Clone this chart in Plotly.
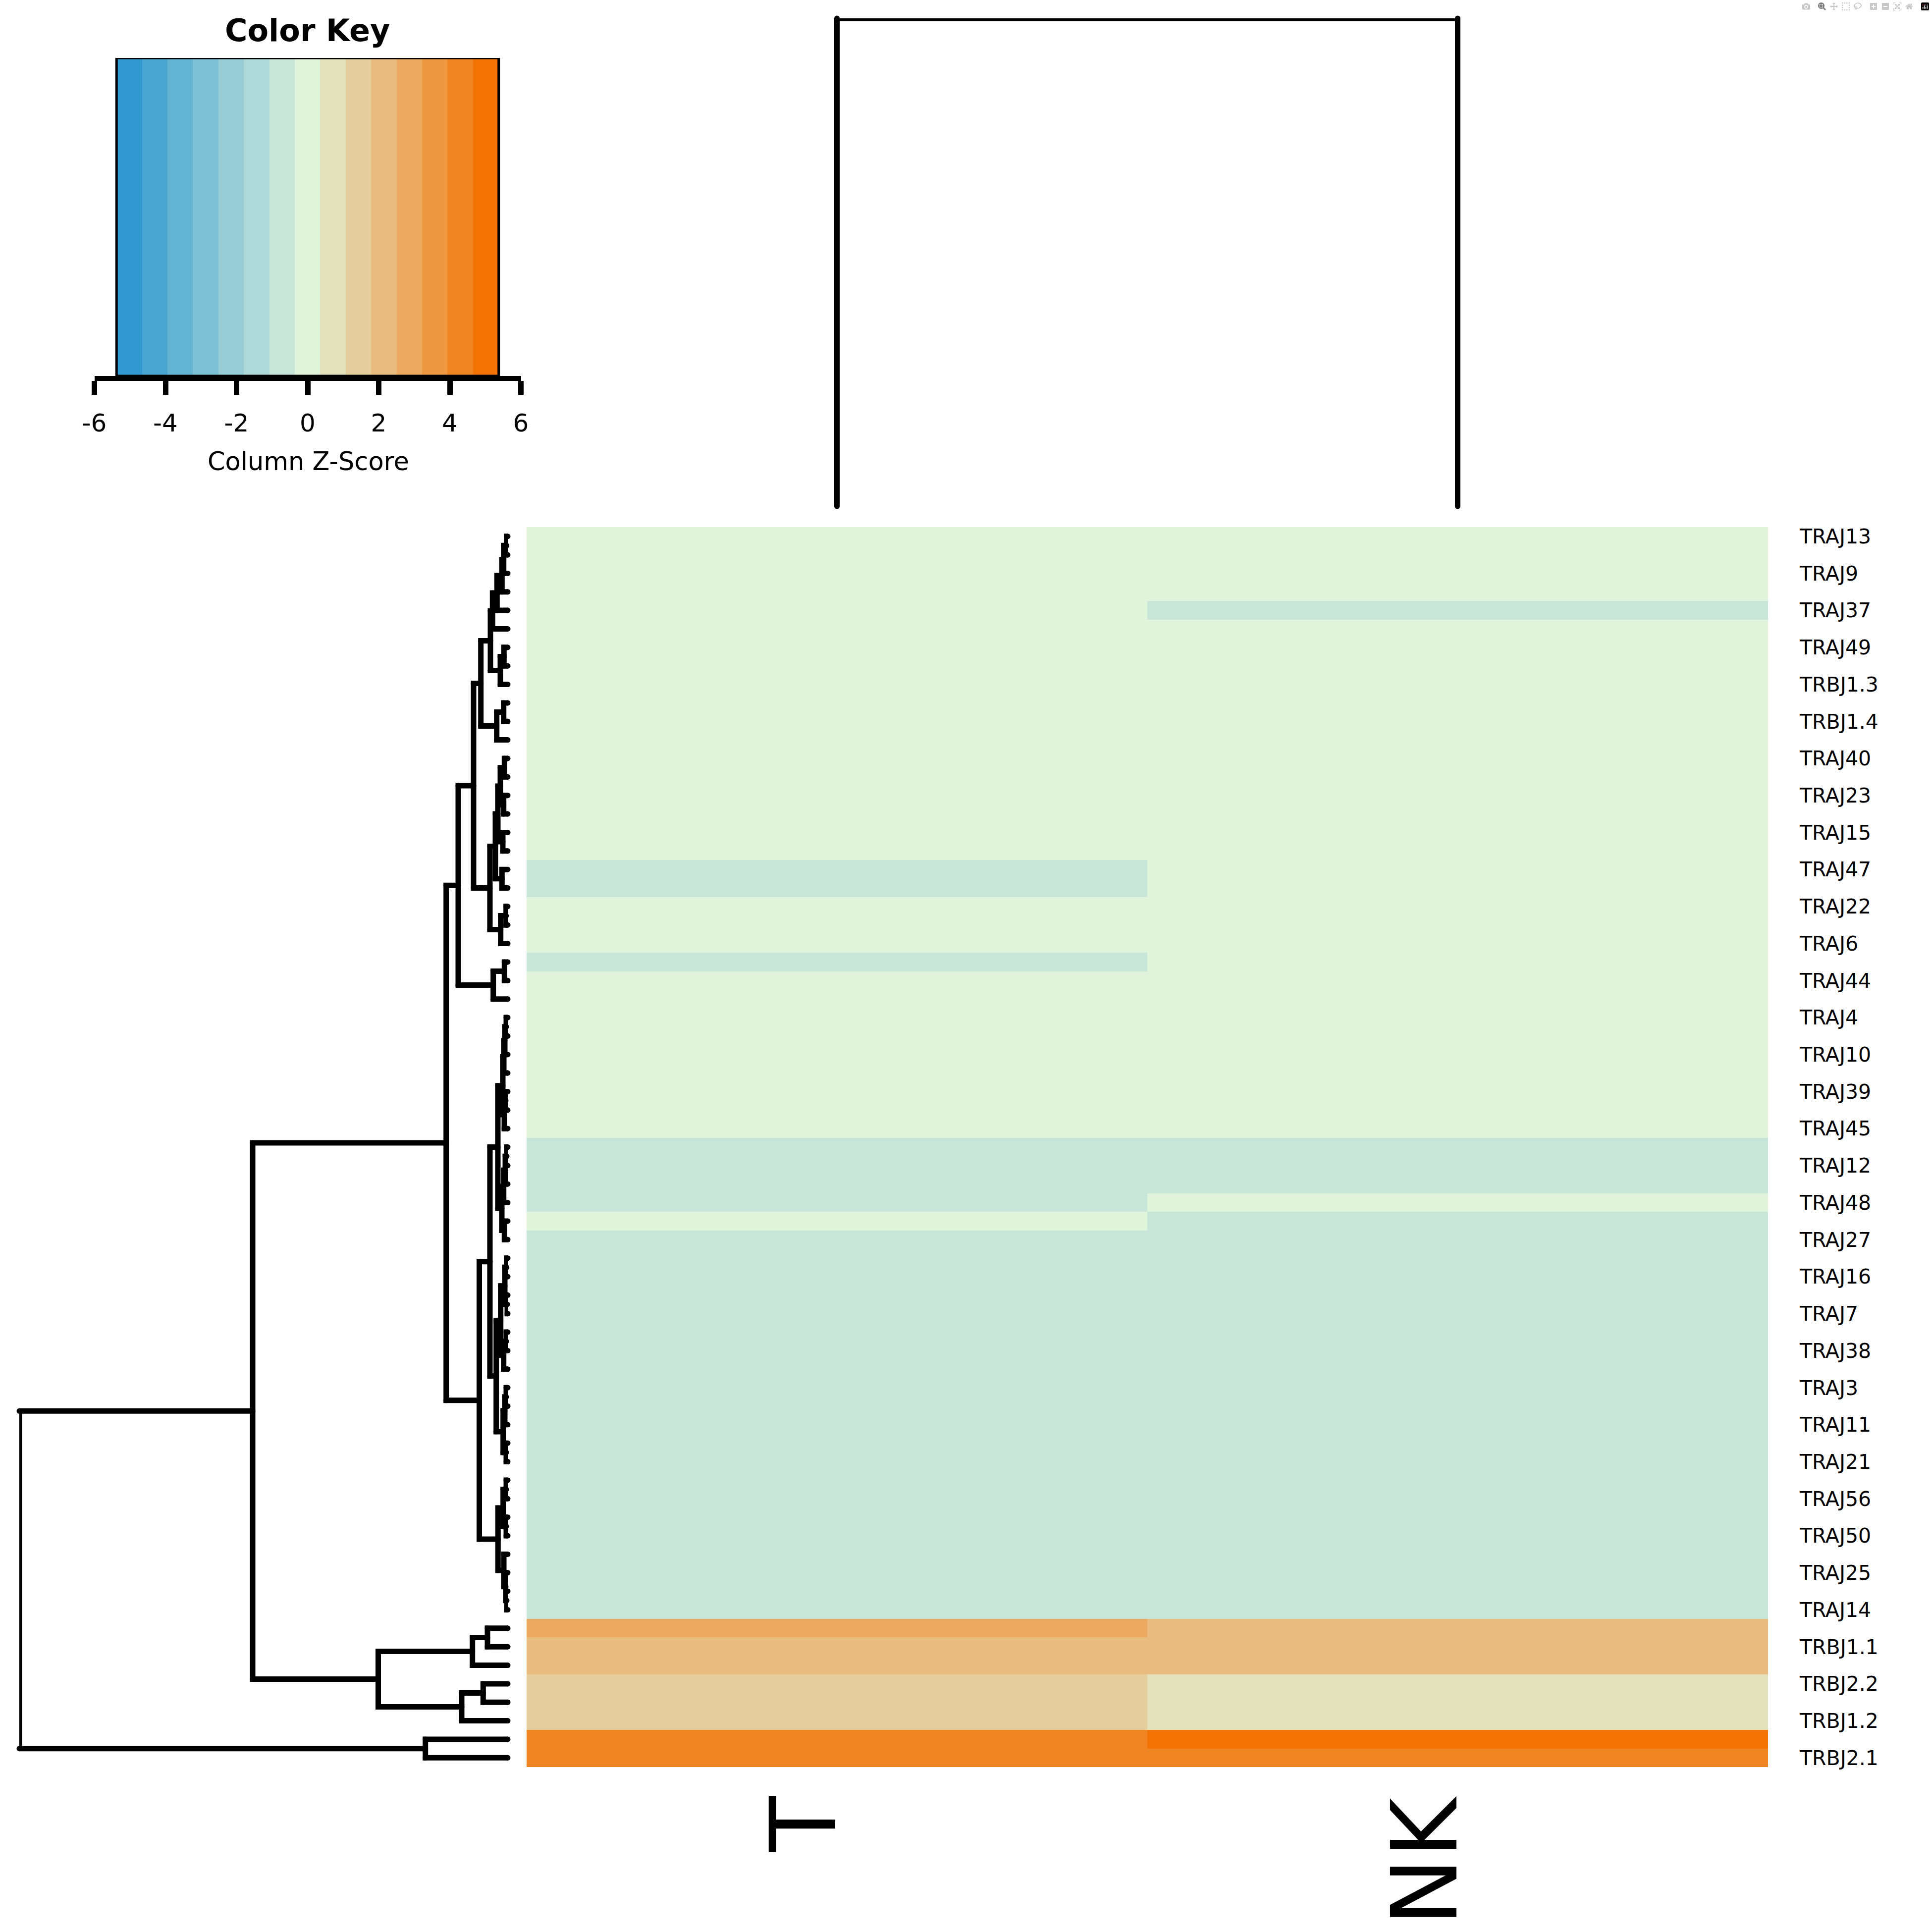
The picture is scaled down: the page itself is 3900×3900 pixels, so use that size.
import plotly.graph_objects as go

# ---------------- data ----------------
columns = ["T", "NK"]

# labels that are printed (every other row of the 67-row matrix, top to bottom)
row_labels_shown = ["TRAJ13", "TRAJ9", "TRAJ37", "TRAJ49", "TRBJ1.3", "TRBJ1.4", "TRAJ40",
                    "TRAJ23", "TRAJ15", "TRAJ47", "TRAJ22", "TRAJ6", "TRAJ44", "TRAJ4",
                    "TRAJ10", "TRAJ39", "TRAJ45", "TRAJ12", "TRAJ48", "TRAJ27", "TRAJ16",
                    "TRAJ7", "TRAJ38", "TRAJ3", "TRAJ11", "TRAJ21", "TRAJ56", "TRAJ50",
                    "TRAJ25", "TRAJ14", "TRBJ1.1", "TRBJ2.2", "TRBJ1.2", "TRBJ2.1"]
n_rows = 67

# column z-scores, rows top -> bottom
t_values = [-0.30, -0.30, -0.30, -0.30, -0.30, -0.30, -0.30, -0.30, -0.30, -0.30,
            -0.30, -0.30, -0.30, -0.30, -0.30, -0.30, -0.30, -0.30, -0.42, -0.42,
            -0.30, -0.30, -0.30, -0.42, -0.30, -0.30, -0.30, -0.30, -0.30, -0.30,
            -0.30, -0.30, -0.30, -0.42, -0.42, -0.42, -0.42, -0.30, -0.42, -0.42,
            -0.42, -0.42, -0.42, -0.42, -0.42, -0.42, -0.42, -0.42, -0.42, -0.42,
            -0.42, -0.42, -0.42, -0.42, -0.42, -0.42, -0.42, -0.42, -0.42, 2.90,
            2.15, 2.15, 1.45, 1.45, 1.45, 4.30, 4.30]
nk_values = [-0.30, -0.30, -0.30, -0.30, -0.40, -0.30, -0.30, -0.30, -0.30, -0.30,
             -0.30, -0.30, -0.30, -0.30, -0.30, -0.30, -0.30, -0.30, -0.30, -0.30,
             -0.30, -0.30, -0.30, -0.30, -0.30, -0.30, -0.30, -0.30, -0.30, -0.30,
             -0.30, -0.30, -0.30, -0.40, -0.40, -0.40, -0.30, -0.40, -0.40, -0.40,
             -0.40, -0.40, -0.40, -0.40, -0.40, -0.40, -0.40, -0.40, -0.40, -0.40,
             -0.40, -0.40, -0.40, -0.40, -0.40, -0.40, -0.40, -0.40, -0.40, 2.15,
             2.15, 2.15, 0.75, 0.75, 0.75, 5.376, 4.30]

# row dendrogram merges: (node, left child, right child, height); leaves are row indices
row_merges = [
    ("A", 0, 1, 2.3), ("B", "A", 2, 8.3), ("C", "B", 3, 11.7), ("D", "C", 4, 21.7),
    ("E", "D", 5, 30.7), ("G1", 6, 7, 7.7), ("G", "G1", 8, 15.0), ("F", "E", "G", 35.0),
    ("I1", 9, 10, 8.3), ("I", "I1", 11, 22.3), ("H", "F", "I", 54.3),
    ("S1", 12, 13, 6.7), ("S2", 14, 15, 8.3), ("S", "S1", "S2", 15.0),
    ("R1", 16, 17, 10.0), ("R", "S", "R1", 20.0), ("P1", 18, 19, 11.7), ("P", "R", "P1", 25.0),
    ("Q1", 20, 21, 3.3), ("Q", "Q1", 22, 14.3), ("K", "P", "Q", 36.0), ("J", "H", "K", 69.0),
    ("M1", 23, 24, 6.7), ("M", "M1", 25, 29.3), ("L", "J", "M", 100.0),
    ("X1a", 26, 27, 3.0), ("X1b", "X1a", 28, 6.0), ("X1", "X1b", 29, 8.0),
    ("X2a", 30, 31, 4.0), ("X2", "X2a", 32, 7.0), ("X", "X1", "X2", 10.0),
    ("Y1a", 33, 34, 2.0), ("Y1b", "Y1a", 35, 5.0), ("Y1", "Y1b", 36, 8.3),
    ("Y2", 37, 38, 6.7), ("Y", "Y1", "Y2", 12.0), ("V", "X", "Y", 20.0),
    ("W1a1", 39, 40, 2.3), ("W1a2", 41, 42, 1.0), ("W1a", "W1a1", "W1a2", 6.0),
    ("W1b1", 43, 44, 3.0), ("W1b", "W1b1", 45, 8.3), ("W1", "W1a", "W1b", 14.3),
    ("W2a", 46, 47, 3.0), ("W2b", "W2a", 48, 6.0), ("W2c", 49, 50, 3.0),
    ("W2", "W2b", "W2c", 9.3), ("Wn", "W1", "W2", 23.3), ("Tn", "V", "Wn", 36.0),
    ("U1a", 51, 52, 3.0), ("U1b", 53, 54, 3.0), ("U1", "U1a", "U1b", 9.3),
    ("U2a", 57, 58, 2.0), ("U2b", 56, "U2a", 4.0), ("U2", 55, "U2b", 8.0),
    ("U", "U1", "U2", 19.7), ("O", "Tn", "U", 57.5), ("N", "L", "O", 124.3),
    ("Z1a", 59, 60, 41.0), ("Z1", "Z1a", 61, 71.3), ("Z2a", 62, 63, 49.7),
    ("Z2", "Z2a", 64, 93.0), ("Z", "Z1", "Z2", 261.5), ("UP", "N", "Z", 515.0),
    ("BT", 65, 66, 166.3), ("ROOT", "UP", "BT", 986.0),
]
# column dendrogram: T and NK joined at one height
col_merges = [("root", 0, 1, 985.0)]

# ---------------- styling ----------------
FONT = "DejaVu Sans"
S = 3900.0
LW = 11
COL_FONT = 184

zmax = max(abs(v) for v in t_values + nk_values)
zmin = -zmax
n_bins = 15
c_low, c_mid, c_high = (49, 153, 207), (224, 243, 219), (243, 115, 4)


def ramp(k):
    # colorRampPalette(c(low, mid, high))(15)
    t = k / (n_bins - 1) * 2
    if t <= 1:
        a, b, f = c_low, c_mid, t
    else:
        a, b, f = c_mid, c_high, t - 1
    return "rgb(%d,%d,%d)" % tuple(round(a[i] + (b[i] - a[i]) * f) for i in range(3))


bin_colors = [ramp(k) for k in range(n_bins)]
colorscale = []
for k, c in enumerate(bin_colors):
    colorscale.append([k / n_bins, c])
    colorscale.append([(k + 1) / n_bins, c])

bin_w = (zmax - zmin) / n_bins
bin_centers = [zmin + bin_w * (k + 0.5) for k in range(n_bins)]


def px_x(p):
    return p / S


def px_y(p):
    return 1 - p / S


def dendro_paths(merges, n_leaves):
    pos = {i: float(i) for i in range(n_leaves)}
    hgt = {i: 0.0 for i in range(n_leaves)}
    hs, ps = [], []
    for name, a, b, h in merges:
        pos[name] = (pos[a] + pos[b]) / 2
        hgt[name] = h
        hs += [hgt[a], h, h, hgt[b], None]
        ps += [pos[a], pos[a], pos[b], pos[b], None]
    return hs, ps


fig = go.Figure()

# heatmap
z = [[t, n] for t, n in zip(t_values, nk_values)]
fig.add_trace(go.Heatmap(z=z, x=[0, 1], y=list(range(n_rows)), colorscale=colorscale,
                         zmin=zmin, zmax=zmax, showscale=False, xaxis="x", yaxis="y",
                         hoverinfo="skip"))

# row dendrogram
rh, rp = dendro_paths(row_merges, n_rows)
fig.add_trace(go.Scatter(x=rh, y=rp, mode="lines+markers", xaxis="x2", yaxis="y2",
                         line=dict(color="black", width=LW),
                         marker=dict(color="black", size=LW, line=dict(width=0)),
                         cliponaxis=False, showlegend=False, hoverinfo="skip"))

# column dendrogram
ch, cp = dendro_paths(col_merges, len(columns))
fig.add_trace(go.Scatter(x=cp, y=ch, mode="lines+markers", xaxis="x3", yaxis="y3",
                         line=dict(color="black", width=LW),
                         marker=dict(color="black", size=LW, line=dict(width=0)),
                         cliponaxis=False, showlegend=False, hoverinfo="skip"))

# color key
fig.add_trace(go.Heatmap(z=[bin_centers], x=bin_centers, y=[0], colorscale=colorscale,
                         zmin=zmin, zmax=zmax, showscale=False, xaxis="x4", yaxis="y4",
                         hoverinfo="skip"))

hm_x = [px_x(1063), px_x(3569)]
hm_y = [px_y(3567), px_y(1064)]

fig.update_layout(
    width=3900, height=3900, margin=dict(l=0, r=0, t=0, b=0, pad=0, autoexpand=False),
    paper_bgcolor="white", plot_bgcolor="white", showlegend=False,
    font=dict(family=FONT, color="black"),
    xaxis=dict(domain=hm_x, range=[-0.5, 1.5], visible=False, anchor="y"),
    yaxis=dict(domain=hm_y, range=[n_rows - 0.5, -0.5], anchor="x", side="right",
               tickmode="array", tickvals=list(range(0, n_rows, 2)), ticktext=row_labels_shown,
               ticks="", showgrid=False, zeroline=False, showline=False,
               tickfont=dict(family=FONT, size=41, color="black"), ticklabelstandoff=63),
    xaxis2=dict(domain=[px_x(39), px_x(1025)], range=[986, 0], visible=False, anchor="y2"),
    yaxis2=dict(domain=hm_y, range=[n_rows - 0.5, -0.5], visible=False, anchor="x2"),
    xaxis3=dict(domain=hm_x, range=[-0.5, 1.5], visible=False, anchor="y3"),
    yaxis3=dict(domain=[px_y(1022), px_y(37)], range=[0, 985], visible=False, anchor="x3"),
    xaxis4=dict(domain=[px_x(190.5), px_x(1051.5)], range=[-6, 6], anchor="y4",
                tickmode="array", tickvals=[-6, -4, -2, 0, 2, 4, 6],
                ticktext=["-6", "-4", "-2", "0", "2", "4", "6"],
                ticks="outside", ticklen=28, tickwidth=11, tickcolor="black",
                showline=True, linewidth=10, linecolor="black", showgrid=False, zeroline=False,
                tickfont=dict(family=FONT, size=50, color="black"), ticklabelstandoff=14),
    yaxis4=dict(domain=[px_y(759), px_y(117)], range=[-0.5, 0.5], visible=False, anchor="x4"),
)

fig.add_shape(type="rect", xref="x4", yref="y4", x0=zmin, x1=zmax, y0=-0.5, y1=0.5,
              line=dict(color="black", width=5), layer="above")

fig.add_annotation(text="Color Key", x=px_x(621), y=px_y(61), xref="paper", yref="paper",
                   xanchor="center", yanchor="middle", showarrow=False,
                   font=dict(family=FONT, size=62, color="black", weight="bold"))
fig.add_annotation(text="Column Z-Score", x=px_x(622), y=px_y(931), xref="paper", yref="paper",
                   xanchor="center", yanchor="middle", showarrow=False,
                   font=dict(family=FONT, size=51, color="black"))
for i, name in enumerate(columns):
    fig.add_annotation(text=name, x=i, y=px_y(3624), xref="x", yref="paper",
                       xshift=-0.365 * COL_FONT, xanchor="center", yanchor="top",
                       textangle=-90, showarrow=False, borderpad=0,
                       font=dict(family=FONT, size=COL_FONT, color="black"))

fig.write_html("out.html", post_script="document.body.style.margin='0px';")
